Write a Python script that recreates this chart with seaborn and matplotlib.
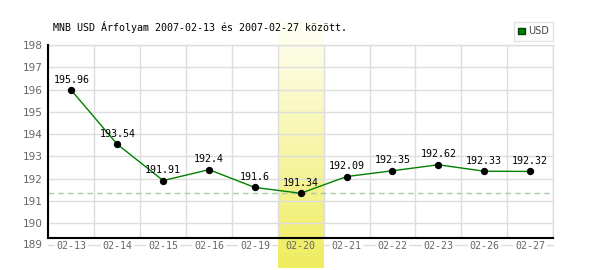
import matplotlib
matplotlib.use("Agg")
import matplotlib.pyplot as plt
import seaborn as sns
import numpy as np
import pandas as pd
from matplotlib.colors import LinearSegmentedColormap
from matplotlib.patches import Patch

# ---- data ----
dates = ["02-13", "02-14", "02-15", "02-16", "02-19", "02-20",
         "02-21", "02-22", "02-23", "02-26", "02-27"]
rates = [195.96, 193.54, 191.91, 192.4, 191.6, 191.34,
         192.09, 192.35, 192.62, 192.33, 192.32]
rate_labels = ["195.96", "193.54", "191.91", "192.4", "191.6", "191.34",
               "192.09", "192.35", "192.62", "192.33", "192.32"]
y_ticks = [190, 191, 192, 193, 194, 195, 196, 197, 198]
y_floor_tick = 189
highlight_day = "02-20"
series_name = "USD"
title = "MNB USD Árfolyam 2007-02-13 és 2007-02-27 között."

df = pd.DataFrame({"date": dates, "rate": rates})

sns.set_theme(style="white")
plt.rcParams["font.family"] = ["DejaVu Sans"]
MONO = "DejaVu Sans Mono"

fig = plt.figure(figsize=(6, 2.7), dpi=100)
ax = fig.add_axes([48.5 / 600, 1 - 238 / 270, (553 - 48.5) / 600, (238 - 45) / 270])

GREEN = "#008000"
GRID = "#dddddd"

# line + points
sns.lineplot(data=df, x="date", y="rate", ax=ax, color=GREEN, lw=1, zorder=3,
             sort=False)
sns.scatterplot(data=df, x="date", y="rate", ax=ax, color="black", s=28,
                edgecolor="black", linewidth=0, zorder=4)

n = len(dates)

# highlight column with gradient
hi = dates.index(highlight_day)
cmap = LinearSegmentedColormap.from_list("hl", ["#fffff8", "#efec5e"])
grad = np.linspace(0, 1, 256).reshape(-1, 1)
ax.imshow(grad, extent=(hi - 0.5, hi + 0.5, 187.98, 199.1), aspect="auto",
          cmap=cmap, zorder=0.5, clip_on=False, interpolation="bilinear")
ax.set_xlim(-0.5, n - 0.5)
ax.set_ylim(189.33, 198)

# min dashed line
ax.axhline(min(rates), color="#a8cca8", lw=1, ls=(0, (4, 3)), zorder=2)

# grids
ax.set_yticks(y_ticks)
ax.set_xticks(range(n))
ax.set_xticklabels(dates)
ax.set_xticks(np.arange(n + 1) - 0.5, minor=True)
ax.grid(False)
ax.grid(which="major", axis="y", color=GRID, lw=1, zorder=0)
ax.grid(which="minor", axis="x", color=GRID, lw=1, zorder=0)
ax.set_axisbelow(True)
ax.axhline(y_floor_tick, color=GRID, lw=1, clip_on=False, zorder=0)
ax.annotate(str(y_floor_tick), xy=(0, y_floor_tick), xycoords=("axes fraction", "data"),
            xytext=(-4.3, 0), textcoords="offset points", ha="right", va="center",
            fontsize=7.6, color="#666666", annotation_clip=False)

for s in ["top", "right"]:
    ax.spines[s].set_color(GRID)
    ax.spines[s].set_linewidth(1)
for s in ["left", "bottom"]:
    ax.spines[s].set_color("black")
    ax.spines[s].set_linewidth(1.5)
    ax.spines[s].set_zorder(5)

ax.tick_params(axis="y", length=0, pad=4.3, labelsize=7.6, labelcolor="#666666")
ax.tick_params(axis="x", which="both", length=0, pad=2.2, labelsize=7.2,
               labelcolor="#666666")
for lab in ax.get_xticklabels():
    lab.set_fontfamily(MONO)
    lab.set_bbox(dict(facecolor="white", edgecolor="none", pad=1.2))
    if lab.get_text() == highlight_day:
        lab.set_bbox(dict(facecolor="none", edgecolor="none", pad=1.2))
ax.set_xlabel("")
ax.set_ylabel("")

# value labels
for i, (v, t) in enumerate(zip(rates, rate_labels)):
    ax.annotate(t, (i, v), xytext=(0, 7.4), textcoords="offset points",
                ha="center", va="center", fontsize=7.2, family=MONO,
                color="black", zorder=6)

# title
fig.text(53 / 600, 1 - 27 / 270, title, ha="left", va="center",
         fontsize=7.2, family=MONO, color="black")

# legend
leg = fig.legend(handles=[Patch(facecolor=GREEN, edgecolor="#004000", label=series_name)],
                 loc="upper right", bbox_to_anchor=(553 / 600, 1 - 22 / 270),
                 frameon=True, fancybox=False, fontsize=7, handlelength=0.7,
                 handleheight=0.7, handletextpad=0.3, borderpad=0.45,
                 borderaxespad=0)
leg.get_frame().set_edgecolor(GRID)
leg.get_frame().set_linewidth(1)
for t in leg.get_texts():
    t.set_color("#444444")

fig.savefig("out.png", dpi=100)
